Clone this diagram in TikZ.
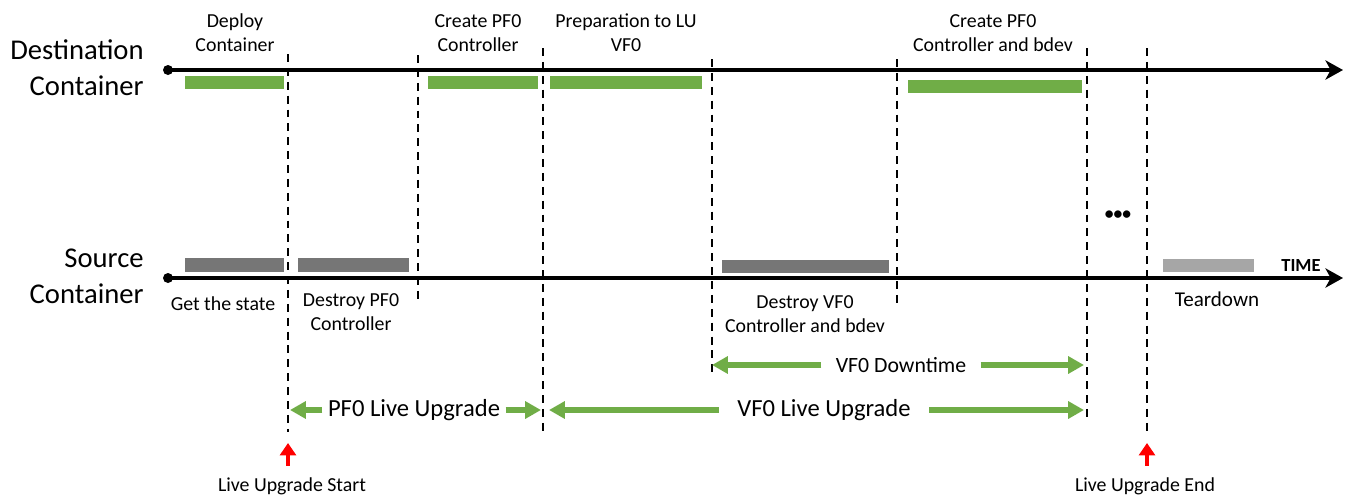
\documentclass[tikz,border=0pt]{standalone}
\usepackage{fontspec}
\setmainfont{Carlito}
\usetikzlibrary{arrows.meta, positioning}
\definecolor{cgreen}{HTML}{70AD47}
\definecolor{cgrey}{HTML}{767676}
\definecolor{clight}{HTML}{A6A6A6}
\definecolor{cred}{HTML}{FF0000}
\tikzset{
  every picture/.style={x=0.02cm, y=-0.02cm},
  axis/.style={line width=2pt, -{Stealth[length=10pt, width=11pt, inset=3pt]}},
  cut/.style={line width=1pt, dash pattern=on 4.5pt off 3.4pt},
  garrow/.style={-{Triangle[length=9pt, width=9.5pt]}, draw=cgreen, line width=3pt},
  rarrow/.style={-{Triangle[length=7pt, width=9pt]}, draw=cred, line width=2.8pt},
  lbl/.style={font=\fontsize{11.3}{13.6}\selectfont, align=center, inner sep=0pt},
  rowname/.style={font=\fontsize{16.3}{20.4}\selectfont, align=right, inner sep=0pt, anchor=east},
  span/.style={font=\fontsize{14}{16}\selectfont, inner ysep=0pt},
}

\begin{document}
\begin{tikzpicture}
  \useasboundingbox (0,0) rectangle (1350,498);
  % row names
  \node[rowname] (dst) at (144,68) {Destination\\Container};
  \node[rowname] (src) at (144,276) {Source\\Container};
  % time axes
  \coordinate (dst0) at (168,70);  \coordinate (dst1) at (1343,70);
  \coordinate (src0) at (168,278); \coordinate (src1) at (1343,278);
  \fill (dst0) circle (5);
  \fill (src0) circle (5);
  \draw[axis] (dst0) -- (dst1);
  \draw[axis] (src0) -- (src1);
  \node[font=\fontsize{10.5}{12}\selectfont\bfseries, inner sep=0pt] (time) at (1301,266) {TIME};
  % phase boundaries
  \foreach \n/\x/\ya/\yb in {1/288/54/432, 2/418/55/302, 3/543/48/435, 4/712/59/377,
                             5/897/59/306, 6/1087/48/422, 7/1147/48/436} {
    \coordinate (d\n t) at (\x,\ya);
    \coordinate (d\n b) at (\x,\yb);
    \draw[cut] (d\n t) -- (d\n b);
  }
  % destination tasks
  \fill[cgreen] (185,76) rectangle (284,89);
  \fill[cgreen] (428,76) rectangle (538,89);
  \fill[cgreen] (550,76) rectangle (702,89);
  \fill[cgreen] (908,80) rectangle (1082,93);
  \node[lbl] (deploy) at (235,33) {Deploy\\Container};
  \node[lbl] (pfcreate) at (478,33) {Create PF0\\Controller};
  \node[lbl] (prep) at (626,33) {Preparation to LU\\VF0};
  \node[lbl] (vfcreate) at (993,33) {Create PF0\\Controller and bdev};
  % source tasks
  \fill[cgrey] (185,258) rectangle (284,272);
  \fill[cgrey] (298,258) rectangle (409,272);
  \fill[cgrey] (722,260) rectangle (889,273);
  \fill[clight] (1163,259) rectangle (1254,272);
  \node[lbl] (state) at (223,304) {Get the state};
  \node[lbl] (pfdestroy) at (351,312) {Destroy PF0\\Controller};
  \node[lbl] (vfdestroy) at (805,314) {Destroy VF0\\Controller and bdev};
  \node[lbl, font=\fontsize{12}{14}\selectfont] (teardown) at (1217,299) {Teardown};
  \node[font=\fontsize{10}{12}\selectfont\bfseries, inner sep=0pt] (more) at (1118,215) {•••};
  % spans
  \coordinate (vfdl) at (712,365);  \coordinate (vfdr) at (1084,365);
  \coordinate (pfl) at (290,410);   \coordinate (pfr) at (541,410);
  \coordinate (vfl) at (549,410);   \coordinate (vfr) at (1084,410);
  \node[span, font=\fontsize{12.4}{14}\selectfont, inner xsep=8pt] (vfdown) at (901,365) {VF0 Downtime};
  \draw[garrow] (vfdown.west) -- (vfdl);
  \draw[garrow] (vfdown.east) -- (vfdr);
  \node[span, inner xsep=3pt] (pflu) at (414,410) {PF0 Live Upgrade};
  \draw[garrow] (pflu.west) -- (pfl);
  \draw[garrow] (pflu.east) -- (pfr);
  \node[span, inner xsep=10.5pt] (vflu) at (824,410) {VF0 Live Upgrade};
  \draw[garrow] (vflu.west) -- (vfl);
  \draw[garrow] (vflu.east) -- (vfr);
  % start / end markers
  \coordinate (ustart) at (288,443);
  \coordinate (uend) at (1147,443);
  \node[lbl] (lustart) at (292,486) {Live Upgrade Start};
  \node[lbl] (luend) at (1145,486) {Live Upgrade End};
  \draw[rarrow] ([yshift=6.5pt]lustart.north -| ustart) -- (ustart);
  \draw[rarrow] ([yshift=6.5pt]luend.north -| uend) -- (uend);
\end{tikzpicture}
\end{document}
